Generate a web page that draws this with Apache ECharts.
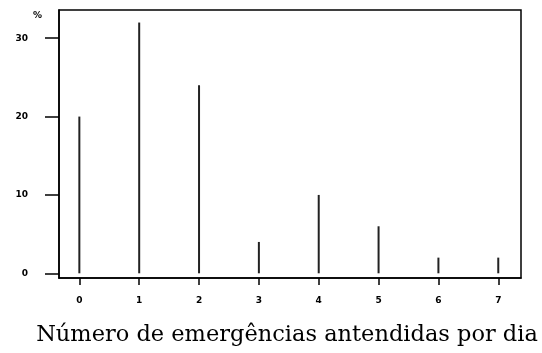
<!DOCTYPE html>
<html><head><meta charset="utf-8">
<script src="https://cdn.jsdelivr.net/npm/echarts@6/dist/echarts.min.js"></script>
<style>html,body{margin:0;padding:0;background:#fff}#c{width:542px;height:353px}</style>
</head><body><div id="c"></div>
<script>
const categories = [0, 1, 2, 3, 4, 5, 6, 7];
const percentages = [20, 32, 24, 4, 10, 6, 2, 2];
const yTicks = [0, 10, 20, 30];
const xTitle = 'Número de emergências antendidas por dia';
const yUnit = '%';

const chart = echarts.init(document.getElementById('c'), null, {renderer: 'canvas'});
const tickFont = {fontFamily: 'DejaVu Sans', fontSize: 9, fontWeight: 'bold', color: '#000'};
chart.setOption({
  animation: false,
  backgroundColor: '#fff',
  grid: {left: 59, top: 10, right: 21, bottom: 75, show: true, borderColor: '#000', borderWidth: 1.5},
  xAxis: {
    type: 'value', min: -0.34, max: 7.38,
    splitLine: {show: false},
    axisLine: {show: true, onZero: false, lineStyle: {color: '#000', width: 1.5}},
    axisTick: {show: true, length: 7, customValues: categories, lineStyle: {color: '#000', width: 1.5}},
    axisLabel: Object.assign({margin: 18, customValues: categories}, tickFont)
  },
  yAxis: {
    type: 'value', min: -0.6, max: 33.6,
    splitLine: {show: false},
    axisLine: {show: true, onZero: false, lineStyle: {color: '#000', width: 1.5}},
    axisTick: {show: true, length: 14, customValues: yTicks, lineStyle: {color: '#000', width: 1.5}},
    axisLabel: Object.assign({margin: 31, customValues: yTicks}, tickFont)
  },
  graphic: [
    {type: 'text', left: 33, top: 11, style: {text: yUnit, font: 'bold 9px DejaVu Sans', fill: '#000'}},
    {type: 'text', x: 287, y: 347, style: {text: xTitle, font: '22.5px "DejaVu Serif"', fill: '#000', textAlign: 'center', textVerticalAlign: 'bottom'}}
  ],
  series: [{
    type: 'bar', barWidth: 2,
    data: categories.map((c, i) => [c, percentages[i]]),
    itemStyle: {color: '#222'}
  }]
});
</script></body></html>
